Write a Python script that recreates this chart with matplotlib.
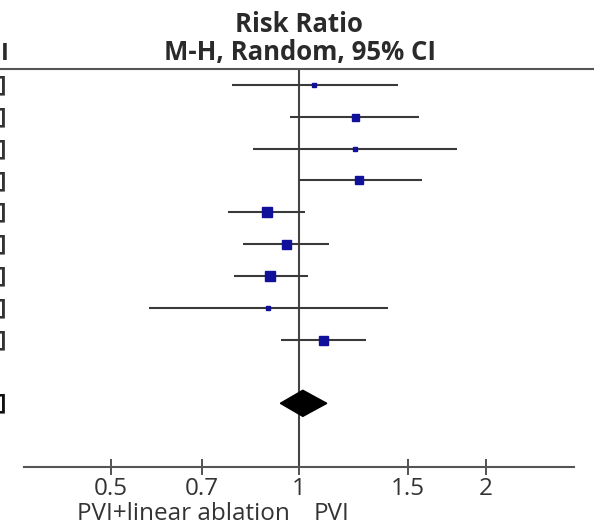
import matplotlib
matplotlib.use("Agg")
import matplotlib.pyplot as plt
import matplotlib.transforms as mtransforms
from matplotlib.patches import Polygon

plt.rcParams['font.family'] = ['Open Sans', 'DejaVu Sans']

# Study-level risk ratios with 95% CI
rr = [1.06, 1.23, 1.23, 1.25, 0.89, 0.955, 0.90, 0.894, 1.094]
ci_low = [0.783, 0.969, 0.846, 1.00, 0.771, 0.815, 0.788, 0.576, 0.937]
ci_high = [1.443, 1.559, 1.793, 1.576, 1.024, 1.119, 1.036, 1.391, 1.282]
weights = [5, 7, 4, 8, 10, 9, 10, 4, 9]   # marker side (relative study weight)

# Pooled estimate
pooled = 1.016
pooled_low = 0.935
pooled_high = 1.11

tick_values = [0.5, 0.7, 1, 1.5, 2]
tick_labels = ['0.5', '0.7', '1', '1.5', '2']
xlim = (0.3625, 2.768)

W, H = 594, 526
fig = plt.figure(figsize=(W / 100, H / 100), dpi=100)
ax = fig.add_axes([24 / W, 1 - 467 / H, 550 / W, (467 - 69) / H])
ax.set_xscale('log')
ax.set_xlim(*xlim)
n = len(rr)
pooled_row = n + 1
ax.set_ylim(n + 3, -0.5)

line_col = '#3a3a3a'
sq_col = '#10109a'
for i in range(n):
    ax.plot([ci_low[i], ci_high[i]], [i, i], color=line_col, lw=1.5,
            solid_capstyle='butt', zorder=2)
    ax.plot([rr[i]], [i], marker='s', ms=weights[i] * 0.72, color=sq_col,
            mec=sq_col, zorder=3)

# pooled diamond
dia = Polygon([[pooled_low, pooled_row], [pooled, pooled_row - 0.41],
               [pooled_high, pooled_row], [pooled, pooled_row + 0.41]],
              closed=True, facecolor='black', edgecolor='black', zorder=3)
ax.add_patch(dia)

# line of no effect
ax.axvline(1, color='#444444', lw=1.5, zorder=1)

for s in ['top', 'left', 'right']:
    ax.spines[s].set_visible(False)
ax.spines['bottom'].set_color('#555555')
ax.spines['bottom'].set_linewidth(1.5)
ax.set_yticks([])
ax.set_xticks(tick_values)
ax.set_xticklabels(tick_labels, fontsize=17.5, color='#333333')
ax.xaxis.set_minor_locator(matplotlib.ticker.NullLocator())
ax.tick_params(axis='x', direction='inout', length=12, width=1.3,
               color='#444444', pad=1)

# top header rule across the whole width
fig.add_artist(plt.Line2D([0, 1], [1 - 69 / H, 1 - 69 / H], color='#555555',
                          lw=1.5, transform=fig.transFigure))

# Header
fig.text(299 / W, 1 - 32 / H, 'Risk Ratio', ha='center', va='baseline',
         fontsize=18.5, fontweight='bold', color='#2a2a2a')
fig.text(300 / W, 1 - 60 / H, 'M-H, Random, 95% CI', ha='center', va='baseline',
         fontsize=18.5, fontweight='bold', color='#2a2a2a')

# fragments of the previous column at the left edge
trans = mtransforms.blended_transform_factory(fig.transFigure, ax.transData)
for i in range(n):
    ax.text(6 / W, i, ']', transform=trans, ha='right', va='center',
            fontsize=16, fontweight='bold', color='#333333', clip_on=False)
ax.text(6 / W, pooled_row, ']', transform=trans, ha='right', va='center',
        fontsize=16, fontweight='bold', color='#111111', clip_on=False)
fig.text(0.5 / W, 1 - 60 / H, 'I', ha='left', va='baseline', fontsize=17,
         fontweight='bold', color='#2a2a2a')

# favours labels
fig.text(290 / W, 1 - 520 / H, 'PVI+linear ablation', ha='right', va='baseline',
         fontsize=17.5, color='#333333')
fig.text(314 / W, 1 - 520 / H, 'PVI', ha='left', va='baseline',
         fontsize=17.5, color='#333333')

fig.savefig('out.png', dpi=100)
